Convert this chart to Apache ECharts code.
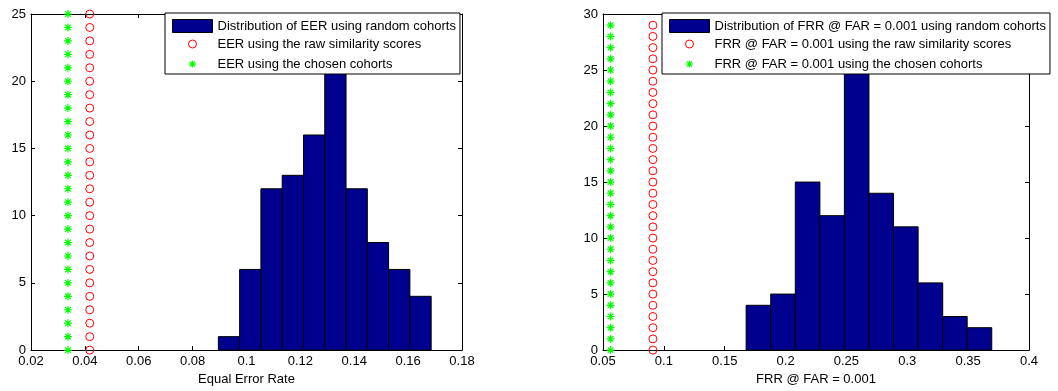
<!DOCTYPE html>
<html>
<head>
<meta charset="utf-8">
<script src="https://cdn.jsdelivr.net/npm/echarts@6/dist/echarts.min.js"></script>
<style>
  html, body { margin: 0; padding: 0; background: #fff; }
  #chart { width: 1058px; height: 391px; }
</style>
</head>
<body>
<div id="chart"></div>
<script>
// ---- Left panel: Equal Error Rate ----
const eerBinCenters = [0.0935, 0.1014, 0.1093, 0.1172, 0.1251, 0.1330, 0.1409, 0.1488, 0.1567, 0.1646];
const eerBinWidth = 0.0079;
const eerCounts = [1, 6, 12, 13, 16, 22, 12, 8, 6, 4];
const eerRawValue = 0.0418;      // EER with raw similarity scores
const eerChosenValue = 0.0337;   // EER with chosen cohorts
const eerMarkerLevels = [0, 1, 2, 3, 4, 5, 6, 7, 8, 9, 10, 11, 12, 13, 14, 15, 16, 17, 18, 19, 20, 21, 22, 23, 24, 25];
const eerXTicks = [0.02, 0.04, 0.06, 0.08, 0.1, 0.12, 0.14, 0.16, 0.18];
const eerYTicks = [0, 5, 10, 15, 20, 25];

// ---- Right panel: FRR @ FAR = 0.001 ----
const frrBinCenters = [0.1777, 0.1979, 0.2181, 0.2382, 0.2584, 0.2786, 0.2988, 0.3190, 0.3391, 0.3593];
const frrBinWidth = 0.0202;
const frrCounts = [4, 5, 15, 12, 28, 14, 11, 6, 3, 2];
const frrRawValue = 0.0910;
const frrChosenValue = 0.0562;
const frrMarkerLevels = [0, 1, 2, 3, 4, 5, 6, 7, 8, 9, 10, 11, 12, 13, 14, 15, 16, 17, 18, 19, 20, 21, 22, 23, 24, 25, 26, 27, 28, 29];
const frrXTicks = [0.05, 0.1, 0.15, 0.2, 0.25, 0.3, 0.35, 0.4];
const frrYTicks = [0, 5, 10, 15, 20, 25, 30];

const FONT = '"Liberation Sans", Arial, Helvetica, sans-serif';
const BAR_FILL = '#00008f';
const RED = '#ff0000';
const GREEN = '#00ff00';

// asterisk marker (plus + cross), stroked only
const STAR_PATH = 'path://M3,0L3,6M0,3L6,3M0.9,0.9L5.1,5.1M5.1,0.9L0.9,5.1';
// legend icons padded to the 13px legend cell so markers keep their plot size
const CIRCLE_LEGEND = 'path://M0,0M13,13M10.5,6.5A4,4,0,1,1,2.5,6.5A4,4,0,1,1,10.5,6.5Z';
const STAR_LEGEND = 'path://M0,0M13,13M6.5,3L6.5,10M3,6.5L10,6.5M4,4L9,9M9,4L4,9';

function histData(centers, width, counts) {
  return centers.map((c, i) => [c - width / 2, c + width / 2, counts[i]]);
}
function markerData(x, levels) {
  return levels.map(v => [x, v]);
}
function renderBin(params, api) {
  const p0 = api.coord([api.value(0), 0]);
  const p1 = api.coord([api.value(1), api.value(2)]);
  return {
    type: 'rect',
    shape: { x: p0[0], y: p1[1], width: p1[0] - p0[0], height: p0[1] - p1[1] },
    style: { fill: BAR_FILL, stroke: '#000', lineWidth: 1 }
  };
}

function axisPair(ticks, gridIndex, isX) {
  const min = ticks[0], max = ticks[ticks.length - 1], step = ticks[1] - ticks[0];
  const common = {
    type: 'value', gridIndex, min, max, interval: step,
    axisLine: { show: true, onZero: false, lineStyle: { color: '#000', width: 1 } },
    axisTick: { show: true, inside: true, length: 4, lineStyle: { color: '#000' } },
    splitLine: { show: false }
  };
  const main = Object.assign({}, common, {
    position: isX ? 'bottom' : 'left',
    axisLabel: { show: true, color: '#000', fontFamily: FONT, fontSize: 13, margin: 5,
      formatter: v => String(+v.toFixed(4)) }
  });
  const mirror = Object.assign({}, common, {
    position: isX ? 'top' : 'right',
    axisLabel: { show: false }
  });
  return [main, mirror];
}

const eerX = axisPair(eerXTicks, 0, true);
const eerY = axisPair(eerYTicks, 0, false);
const frrX = axisPair(frrXTicks, 1, true);
const frrY = axisPair(frrYTicks, 1, false);
eerX[0].name = 'Equal Error Rate';
frrX[0].name = 'FRR @ FAR = 0.001';
[eerX[0], frrX[0]].forEach(a => {
  a.nameLocation = 'middle';
  a.nameGap = 20;
  a.nameTextStyle = { color: '#000', fontFamily: FONT, fontSize: 13 };
});

const names = {
  eerHist: 'Distribution of EER using random cohorts',
  eerRaw: 'EER using the raw similarity scores',
  eerChosen: 'EER using the chosen cohorts',
  frrHist: 'Distribution of FRR @ FAR = 0.001 using random cohorts',
  frrRaw: 'FRR @ FAR = 0.001 using the raw similarity scores',
  frrChosen: 'FRR @ FAR = 0.001 using the chosen cohorts'
};

function legendBox(left, hist, raw, chosen) {
  return {
    left, top: 13, orient: 'vertical',
    itemWidth: 40, itemHeight: 13, itemGap: 2,
    padding: [6, 4, 1, 7],
    backgroundColor: '#fff', borderColor: '#000', borderWidth: 1, borderRadius: 0,
    selectedMode: false,
    textStyle: { color: '#000', fontFamily: FONT, fontSize: 13 },
    data: [
      { name: hist, icon: 'rect', itemStyle: { color: BAR_FILL, borderColor: '#000', borderWidth: 1 } },
      { name: raw, icon: CIRCLE_LEGEND, itemStyle: { color: 'none', borderColor: RED, borderWidth: 1 } },
      { name: chosen, icon: STAR_LEGEND, itemStyle: { color: 'none', borderColor: GREEN, borderWidth: 1.2 } }
    ]
  };
}

function markerSeries(name, x, levels, xi, yi, symbol, size, color, lw) {
  return {
    type: 'scatter', name, xAxisIndex: xi, yAxisIndex: yi,
    symbol, symbolSize: size, clip: false, silent: true,
    itemStyle: { color: 'none', borderColor: color, borderWidth: lw, opacity: 1 },
    data: markerData(x, levels), z: 3
  };
}

const option = {
  animation: false,
  backgroundColor: '#fff',
  grid: [
    { left: 31, top: 14, width: 431, height: 339 },
    { left: 603, top: 14, width: 426, height: 339 }
  ],
  xAxis: [eerX[0], eerX[1], frrX[0], frrX[1]],
  yAxis: [eerY[0], eerY[1], frrY[0], frrY[1]],
  legend: [
    legendBox(165, names.eerHist, names.eerRaw, names.eerChosen),
    legendBox(662, names.frrHist, names.frrRaw, names.frrChosen)
  ],
  series: [
    { type: 'custom', name: names.eerHist, xAxisIndex: 0, yAxisIndex: 0,
      renderItem: renderBin, encode: { x: [0, 1], y: 2 }, silent: true,
      itemStyle: { color: BAR_FILL },
      data: histData(eerBinCenters, eerBinWidth, eerCounts) },
    markerSeries(names.eerRaw, eerRawValue, eerMarkerLevels, 0, 0, 'circle', 8, RED, 1),
    markerSeries(names.eerChosen, eerChosenValue, eerMarkerLevels, 0, 0, STAR_PATH, 8, GREEN, 1.2),
    { type: 'custom', name: names.frrHist, xAxisIndex: 2, yAxisIndex: 2,
      renderItem: renderBin, encode: { x: [0, 1], y: 2 }, silent: true,
      itemStyle: { color: BAR_FILL },
      data: histData(frrBinCenters, frrBinWidth, frrCounts) },
    markerSeries(names.frrRaw, frrRawValue, frrMarkerLevels, 2, 2, 'circle', 8, RED, 1),
    markerSeries(names.frrChosen, frrChosenValue, frrMarkerLevels, 2, 2, STAR_PATH, 8, GREEN, 1.2)
  ]
};

const chart = echarts.init(document.getElementById('chart'), null, { renderer: 'canvas' });
chart.setOption(option);
</script>
</body>
</html>
